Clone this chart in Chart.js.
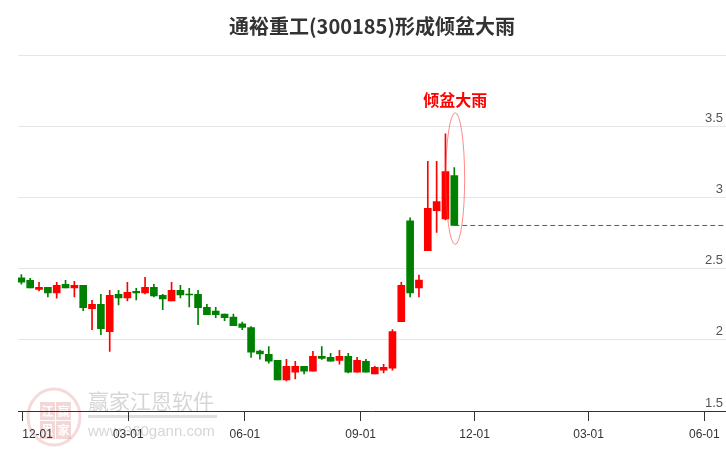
<!DOCTYPE html>
<html><head><meta charset="utf-8">
<script src="https://cdn.jsdelivr.net/npm/chart.js@4"></script>
<style>html,body{margin:0;padding:0;background:#fff;}#wrap{width:726px;height:450px;position:relative;}</style>
</head><body><div id="wrap"><canvas id="c"></canvas></div>
<script>
// ---- data (weekly candles) ----
const titleText = '通裕重工(300185)形成倾盆大雨';
const opens  = [2.437,2.419,2.356,2.370,2.330,2.391,2.365,2.384,2.219,2.251,2.058,2.321,2.295,2.342,2.330,2.370,2.314,2.274,2.349,2.323,2.321,2.230,2.202,2.181,2.160,2.114,2.086,1.921,1.898,1.856,1.719,1.774,1.814,1.781,1.884,1.877,1.856,1.884,1.774,1.849,1.760,1.788,1.802,2.128,2.837,2.365,2.628,2.909,2.851,3.156];
const highs  = [2.460,2.433,2.405,2.370,2.405,2.419,2.412,2.384,2.279,2.321,2.349,2.349,2.405,2.363,2.440,2.391,2.321,2.405,2.384,2.363,2.349,2.251,2.230,2.181,2.181,2.126,2.093,1.928,1.953,1.856,1.863,1.849,1.814,1.919,1.953,1.905,1.926,1.905,1.877,1.863,1.814,1.828,2.072,2.405,2.858,2.456,3.256,3.256,3.449,3.212];
const lows   = [2.393,2.365,2.344,2.302,2.293,2.365,2.302,2.205,2.072,2.037,1.919,2.247,2.274,2.281,2.323,2.302,2.212,2.274,2.295,2.233,2.107,2.177,2.156,2.135,2.100,2.072,1.877,1.865,1.837,1.719,1.712,1.726,1.760,1.781,1.863,1.851,1.830,1.767,1.774,1.774,1.760,1.767,1.788,2.128,2.302,2.302,2.628,2.756,2.844,2.805];
const closes = [2.407,2.365,2.370,2.330,2.384,2.365,2.384,2.226,2.251,2.079,2.314,2.295,2.335,2.330,2.370,2.309,2.288,2.349,2.316,2.316,2.226,2.177,2.177,2.156,2.100,2.088,1.914,1.902,1.851,1.719,1.814,1.814,1.781,1.884,1.870,1.851,1.884,1.774,1.856,1.774,1.807,1.807,2.058,2.384,2.330,2.421,2.926,2.974,3.184,2.805];
const tickWeeks  = [0.1, 12.1, 25.3, 38.4, 51.3, 64.2, 77.3];
const tickLabels = ['12-01','03-01','06-01','09-01','12-01','03-01','06-01'];
const yTicks = [1.5, 2, 2.5, 3, 3.5, 4];
const patternLabel = '倾盆大雨';
const patternIndex = 49;
const ellipseTop = 3.598, ellipseBottom = 2.672, ellipseHalfWeeks = 1.07, ellipseCenterWeek = 49.1;
const patternLabelValue = 3.69;

// ---- styles ----
const upColor = '#ff0000', downColor = '#008000';
const idx = opens.map((_, i) => i);
const candleColors = idx.map(i => closes[i] >= opens[i] ? upColor : downColor);
const lastClose = closes[closes.length - 1];
const xMin = -0.38, xMax = 79.75;

const watermark = {
  id: 'watermark',
  beforeDraw(chart) {
    const ctx = chart.ctx;
    ctx.save();
    ctx.strokeStyle = 'rgba(225,150,150,0.35)';
    ctx.lineWidth = 3;
    ctx.beginPath();
    ctx.ellipse(54, 417, 26, 28, 0, 0, Math.PI * 2);
    ctx.stroke();
    ctx.fillStyle = 'rgba(215,120,120,0.3)';
    const sq = [[40,402],[56,402],[40,421],[56,421]];
    sq.forEach(p => ctx.fillRect(p[0], p[1], 15, 18));
    ctx.fillStyle = 'rgba(255,255,255,0.95)';
    ctx.font = 'bold 12px "Noto Sans CJK SC"';
    ctx.textAlign = 'center'; ctx.textBaseline = 'middle';
    ['江','赢','恩','家'].forEach((t, i) => ctx.fillText(t, sq[i][0] + 7.5, sq[i][1] + 9));
    ctx.fillStyle = 'rgba(200,200,200,0.75)';
    ctx.font = '21px "Noto Sans CJK SC"';
    ctx.textAlign = 'left';
    ctx.fillText('赢家江恩软件', 88, 401);
    ctx.fillStyle = 'rgba(215,215,215,0.8)';
    ctx.fillRect(88, 415, 129, 3);
    ctx.fillStyle = 'rgba(200,200,200,0.75)';
    ctx.font = '15px "Liberation Sans"';
    ctx.fillText('www.360gann.com', 88, 432);
    ctx.restore();
  }
};

const patternMark = {
  id: 'patternMark',
  afterDatasetsDraw(chart) {
    const ctx = chart.ctx, xs = chart.scales.x, ys = chart.scales.y;
    const cx = xs.getPixelForValue(ellipseCenterWeek);
    const rx = xs.getPixelForValue(ellipseCenterWeek + ellipseHalfWeeks) - cx;
    const yt = ys.getPixelForValue(ellipseTop), yb = ys.getPixelForValue(ellipseBottom);
    ctx.save();
    ctx.strokeStyle = 'rgba(255,60,60,0.6)';
    ctx.lineWidth = 1;
    ctx.beginPath();
    ctx.ellipse(cx, (yt + yb) / 2, rx, (yb - yt) / 2, 0, 0, Math.PI * 2);
    ctx.stroke();
    ctx.fillStyle = '#ff0000';
    ctx.font = 'bold 16px "Noto Sans CJK SC"';
    ctx.textAlign = 'center'; ctx.textBaseline = 'middle';
    ctx.fillText(patternLabel, xs.getPixelForValue(ellipseCenterWeek), ys.getPixelForValue(patternLabelValue));
    ctx.restore();
  }
};

new Chart(document.getElementById('c'), {
  type: 'bar',
  data: {
    datasets: [
      { type: 'bar', label: 'wick', data: idx.map(i => ({x: i, y: [lows[i], highs[i]]})),
        backgroundColor: candleColors, barThickness: 1, grouped: false, order: 2 },
      { type: 'bar', label: 'body', data: idx.map(i => ({x: i, y: [opens[i], closes[i]]})),
        backgroundColor: candleColors, barThickness: 7, grouped: false, minBarLength: 1, order: 1 },
      { type: 'line', label: 'last', data: [{x: patternIndex, y: lastClose}, {x: xMax, y: lastClose}],
        borderColor: '#00a000', borderWidth: 1, borderDash: [5, 3], pointRadius: 0, order: 0 }
    ]
  },
  options: {
    responsive: true, maintainAspectRatio: false, animation: false,
    layout: { padding: { left: 18, right: 0, top: 0, bottom: 2.6 }, autoPadding: false },
    plugins: {
      legend: { display: false }, tooltip: { enabled: false },
      title: { display: true, text: titleText, color: '#333',
        font: { family: '"Noto Sans CJK SC"', size: 20, weight: 'bold' },
        padding: { top: 14, bottom: 17.6 } }
    },
    scales: {
      x: { type: 'linear', min: xMin, max: xMax, offset: false,
        afterBuildTicks: s => { s.ticks = tickWeeks.map(v => ({value: v})).concat([{value: xMax - 0.75}]); },
        ticks: { autoSkip: false, maxRotation: 0, minRotation: 0, align: 'inner', padding: 6, color: '#333',
          font: { family: '"Liberation Sans"', size: 12 },
          callback: (v, i) => (tickLabels[i] !== undefined ? tickLabels[i] : '') },
        grid: { drawOnChartArea: false, drawTicks: true, tickLength: 10, lineWidth: 1, offset: false,
          color: c => (c.index < tickLabels.length ? '#333' : 'rgba(0,0,0,0)') },
        border: { display: true, color: '#333', width: 1 } },
      y: { type: 'linear', position: 'right', min: 1.5, max: 4.0,
        afterBuildTicks: s => { s.ticks = yTicks.map(v => ({value: v})); },
        ticks: { mirror: true, labelOffset: -8, padding: -3, color: '#555',
          font: { family: '"Liberation Sans"', size: 13 },
          callback: v => (v === 4 ? '' : String(v)) },
        grid: { color: '#e6e6e6', lineWidth: 1, drawTicks: false },
        border: { display: false } }
    }
  },
  plugins: [watermark, patternMark]
});
</script>
</body></html>
